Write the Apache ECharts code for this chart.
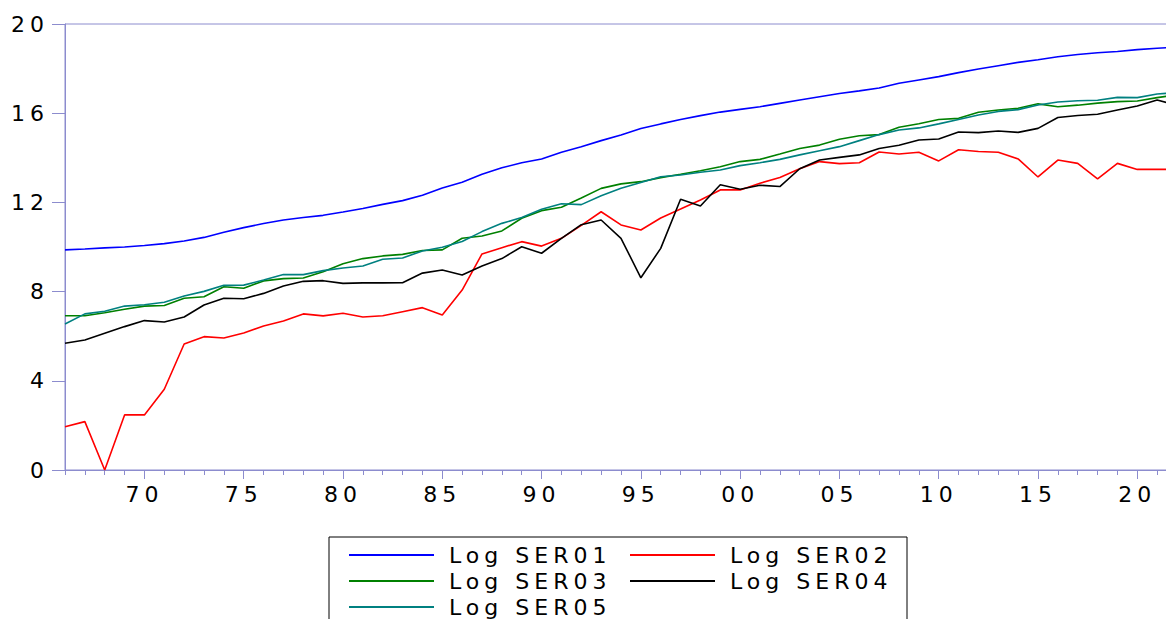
<!DOCTYPE html>
<html>
<head>
<meta charset="utf-8">
<script src="https://cdn.jsdelivr.net/npm/echarts@6/dist/echarts.min.js"></script>
<style>
  html, body { margin: 0; padding: 0; background: #ffffff; }
  #main { width: 1166px; height: 619px; }
  #main svg text { letter-spacing: 5px; }
</style>
</head>
<body>
<div id="main"></div>
<script>
// Years 1966..2022 (the last year lies just past the right edge of the picture)
const years = [];
for (let y = 1966; y <= 2022; y++) years.push(String(y));

const seriesNames = ['Log SER01', 'Log SER02', 'Log SER03', 'Log SER04', 'Log SER05'];
const seriesColors = ['#0000ff', '#ff0000', '#008000', '#000000', '#008080'];
const yTicks = [0, 4, 8, 12, 16, 20];

const ser01 = [9.87, 9.91, 9.96, 10.0, 10.07, 10.15, 10.27, 10.43, 10.66, 10.87, 11.05, 11.21, 11.32, 11.42, 11.57, 11.73, 11.91, 12.08, 12.32, 12.65, 12.90, 13.26,
  13.55, 13.78, 13.95, 14.25,
  14.50, 14.77, 15.02, 15.31, 15.52, 15.72, 15.89, 16.05, 16.17, 16.29, 16.44, 16.59, 16.74, 16.88, 17.00, 17.13, 17.34, 17.49, 17.64, 17.82, 17.98, 18.13, 18.28, 18.40, 18.53, 18.63, 18.71, 18.77, 18.85, 18.91, 18.97];

const ser02 = [1.94, 2.17, 0, 2.47, 2.47, 3.62, 5.65, 5.98, 5.92, 6.14, 6.46, 6.68, 7.00, 6.91, 7.03, 6.86, 6.92, 7.10, 7.28, 6.95, 8.07, 9.69, 9.97, 10.24, 10.04, 10.39, 10.97,
  11.58, 10.99, 10.76, 11.30, 11.70, 12.11, 12.56, 12.56, 12.86, 13.12, 13.51, 13.83, 13.74, 13.78, 14.26, 14.17, 14.25, 13.86, 14.36, 14.28, 14.25, 13.95, 13.14, 13.90, 13.75, 13.06, 13.75, 13.48, 13.48, 13.48];

const ser03 = [6.92, 6.92, 7.05, 7.21, 7.35, 7.38, 7.70, 7.77, 8.22, 8.15, 8.48, 8.58, 8.61, 8.89, 9.25, 9.48, 9.60, 9.67, 9.84, 9.87, 10.39, 10.49, 10.72, 11.29, 11.63, 11.78,
  12.20, 12.63, 12.83, 12.93, 13.11, 13.26, 13.42, 13.60, 13.83, 13.93, 14.17, 14.42, 14.57, 14.83, 14.99, 15.04, 15.37, 15.53, 15.72, 15.77, 16.04, 16.14, 16.22, 16.42, 16.29, 16.36, 16.45, 16.52, 16.55, 16.70, 16.82];

const ser04 = [5.68, 5.83, 6.13, 6.43, 6.70, 6.64, 6.86, 7.40, 7.70, 7.68, 7.92, 8.25, 8.46, 8.49, 8.37, 8.39, 8.39, 8.40, 8.83, 8.97, 8.74, 9.15, 9.48, 10.01, 9.72, 10.39,
  11.00, 11.21, 10.39, 8.62, 9.94, 12.14, 11.84, 12.79, 12.59, 12.77, 12.71, 13.51, 13.90, 14.02, 14.13, 14.42, 14.56, 14.80, 14.84, 15.16, 15.13, 15.20, 15.14, 15.32, 15.81, 15.90, 15.95, 16.14, 16.32, 16.59, 16.35];

const ser05 = [6.55, 7.00, 7.12, 7.35, 7.41, 7.52, 7.80, 8.01, 8.28, 8.29, 8.52, 8.77, 8.76, 8.94, 9.06, 9.15, 9.45, 9.51, 9.82, 9.99, 10.25, 10.69, 11.06, 11.32, 11.69, 11.94,
  11.90, 12.30, 12.63, 12.89, 13.15, 13.23, 13.35, 13.45, 13.65, 13.78, 13.93, 14.13, 14.32, 14.50, 14.77, 15.04, 15.25, 15.34, 15.52, 15.72, 15.92, 16.08, 16.16, 16.37, 16.50, 16.56, 16.58, 16.71, 16.70, 16.86, 16.92];

const allData = [ser01, ser02, ser03, ser04, ser05];

const axisColor = '#8c8cce';
const font = 'DejaVu Sans';

const chart = echarts.init(document.getElementById('main'), null, { renderer: 'svg' });

const isMajor = (idx, val) => Number(val) % 5 === 0;

chart.setOption({
  animation: false,
  backgroundColor: '#ffffff',
  grid: {
    left: 65, width: 1112, top: 24, height: 446,
    outerBoundsMode: 'none',
    containLabel: false,
    show: true, borderColor: axisColor, borderWidth: 1, backgroundColor: 'transparent'
  },
  xAxis: [
    {
      type: 'category', data: years, boundaryGap: false, position: 'bottom',
      axisLine: { lineStyle: { color: axisColor, width: 1 } },
      axisTick: { show: true, interval: 0, length: 5, lineStyle: { color: axisColor } },
      axisLabel: { show: false },
      splitLine: { show: false }
    },
    {
      type: 'category', data: years, boundaryGap: false, position: 'bottom',
      axisLine: { show: false },
      axisTick: { show: true, interval: isMajor, length: 9, lineStyle: { color: axisColor } },
      axisLabel: {
        show: true, interval: isMajor, margin: 13,
        color: '#000', fontSize: 22, fontFamily: font,
        formatter: v => v.slice(2)
      },
      splitLine: { show: false }
    }
  ],
  yAxis: {
    type: 'value', min: yTicks[0], max: yTicks[yTicks.length - 1], interval: 4,
    axisLine: { show: true, lineStyle: { color: axisColor, width: 1 } },
    axisTick: { show: true, length: 13, lineStyle: { color: axisColor } },
    axisLabel: { color: '#000', fontSize: 22, fontFamily: font, margin: 16 },
    splitLine: { show: false }
  },
  legend: {
    data: seriesNames,
    orient: 'horizontal',
    left: 329, top: 537,
    width: 600,
    padding: [7, 0, 20, 20],
    itemGap: 4,
    itemWidth: 85, itemHeight: 2,
    icon: 'rect',
    borderColor: '#000', borderWidth: 1,
    backgroundColor: '#fff',
    textStyle: {
      color: '#000', fontSize: 22, fontFamily: font,
      width: 177, lineHeight: 12, padding: [0, 0, 0, 10]
    }
  },
  series: seriesNames.map((name, k) => ({
    name: name,
    type: 'line',
    xAxisIndex: 0,
    data: allData[k],
    showSymbol: false,
    symbol: 'none',
    lineStyle: { color: seriesColors[k], width: 1.6 },
    itemStyle: { color: seriesColors[k] },
    emphasis: { disabled: true }
  }))
});
</script>
</body>
</html>
